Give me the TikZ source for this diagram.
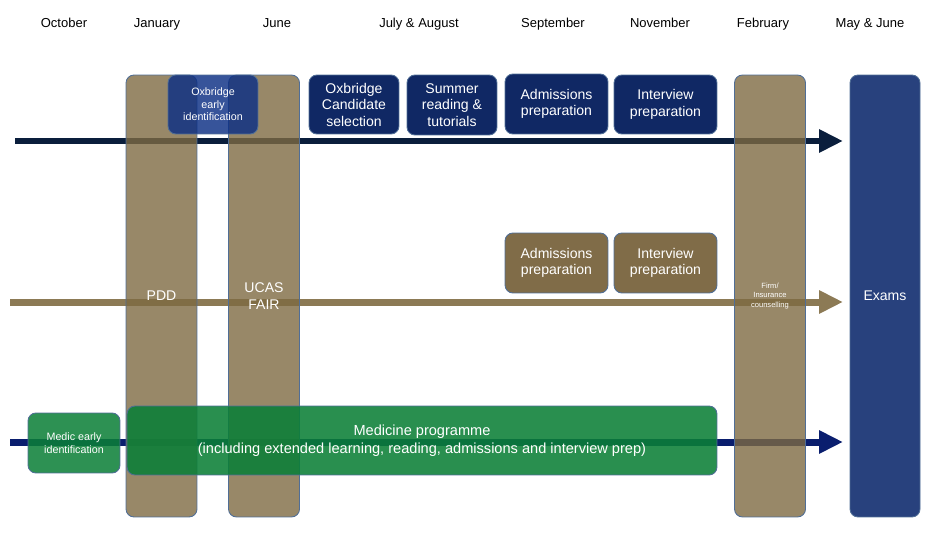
\documentclass[tikz,border=0pt]{standalone}
\usepackage{fontspec}
\setmainfont{Liberation Sans}
\usepackage{tikz}
\usetikzlibrary{arrows.meta,positioning}
\usepackage{xcolor}
\definecolor{coltan}{RGB}{126,106,66}
\definecolor{arrowtan}{RGB}{140,122,85}
\definecolor{boxbrown}{RGB}{128,108,72}
\definecolor{navybox}{RGB}{16,40,100}
\definecolor{earlyblue}{RGB}{11,46,132}
\definecolor{examblue}{RGB}{40,65,125}
\definecolor{toparrow}{RGB}{10,30,60}
\definecolor{lowarrow}{RGB}{10,30,110}
\definecolor{medgreen}{RGB}{11,127,55}
\definecolor{edgeblue}{RGB}{80,110,150}

\begin{document}
\begin{tikzpicture}[x=0.02cm,y=-0.02cm,
    month/.style={font=\fontsize{7.4}{8}\selectfont,text=black,text height=0.75em,text depth=0.25em},
    column/.style={draw=edgeblue,line width=0.5pt,fill=coltan,fill opacity=0.8,
      text opacity=1,rounded corners=4.5pt,minimum width=1.42cm,minimum height=8.84cm,
      inner sep=0pt,align=center,text=white,font=\fontsize{8}{9.6}\selectfont},
    stepbox/.style={draw=edgeblue,line width=0.5pt,rounded corners=4.5pt,inner sep=0pt,
      align=center,text=white,font=\fontsize{8}{9.4}\selectfont},
    smallbox/.style={stepbox,font=\fontsize{6.1}{7.2}\selectfont},
    timeline/.style={line width=0.14cm,-{Triangle[length=0.48cm,width=0.44cm]}}]
  \useasboundingbox (0,0) rectangle (930,544);

  % month headings
  \node[month] (mOct) at (64,23) {October};
  \node[month] (mJan) at (157,23) {January};
  \node[month] (mJun) at (277,23) {June};
  \node[month] (mJul) at (419,23) {July \& August};
  \node[month] (mSep) at (553,23) {September};
  \node[month] (mNov) at (660,23) {November};
  \node[month] (mFeb) at (763,23) {February};
  \node[month] (mMay) at (870,23) {May \& June};

  % timelines
  \coordinate (top0) at (15,141);  \coordinate (top1) at (843,141);
  \coordinate (mid0) at (10,302);  \coordinate (mid1) at (843,302);
  \coordinate (low0) at (10,442);  \coordinate (low1) at (843,442);
  \draw[timeline,toparrow] (top0) -- (top1);
  \draw[timeline,arrowtan] (mid0) -- (mid1);
  \draw[timeline,lowarrow] (low0) -- (low1);

  % columns
  \node[column] (pdd) at (161.5,296) {PDD};
  \node[column] (ucas) at (264,296) {UCAS\\FAIR};
  \node[column,font=\fontsize{4.3}{5.2}\selectfont] (firm) at (770,296)
    {Firm/\\Insurance\\counselling};
  \node[column,fill=examblue,fill opacity=1,minimum width=1.4cm] (exams) at (885,296) {Exams};

  % Oxbridge track
  \node[smallbox,fill=earlyblue,fill opacity=0.82,text opacity=1,
        minimum width=1.8cm,minimum height=1.18cm] (oxearly) at (213,104.5)
    {Oxbridge\\early\\identification};
  \node[stepbox,fill=navybox,minimum width=1.8cm,minimum height=1.18cm] (oxcand) at (354,104.5)
    {Oxbridge\\Candidate\\selection};
  \node[stepbox,fill=navybox,minimum width=1.8cm,minimum height=1.2cm] (summer) at (452,105)
    {Summer\\reading \&\\tutorials};
  \node[stepbox,fill=navybox,minimum width=2.06cm,minimum height=1.2cm] (admtop) at (556.5,104)
    {Admissions\\preparation};
  \node[stepbox,fill=navybox,minimum width=2.06cm,minimum height=1.18cm] (inttop) at (665.5,104.5)
    {Interview\\preparation};

  % general track
  \node[stepbox,fill=boxbrown,minimum width=2.06cm,minimum height=1.2cm] (admmid) at (556.5,263)
    {Admissions\\preparation};
  \node[stepbox,fill=boxbrown,minimum width=2.06cm,minimum height=1.2cm] (intmid) at (665.5,263)
    {Interview\\preparation};

  % medicine track
  \node[smallbox,fill=medgreen,fill opacity=0.86,text opacity=1,
        minimum width=1.84cm,minimum height=1.2cm] (medic) at (74,443)
    {Medic early\\identification};
  \node[stepbox,fill=medgreen,fill opacity=0.88,text opacity=1,font=\fontsize{8.3}{10.2}\selectfont,
        minimum width=11.8cm,minimum height=1.38cm] (medicine) at (422,440.5)
    {Medicine programme\\(including extended learning, reading, admissions and interview prep)};
\end{tikzpicture}
\end{document}
